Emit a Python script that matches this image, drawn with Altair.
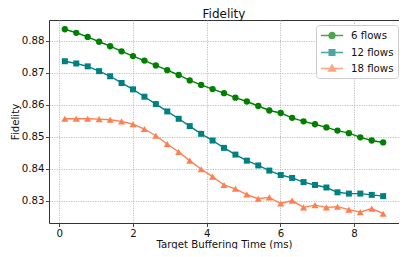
import altair as alt
import pandas as pd

# ---- data ----
x_ms = [0.15, 0.46, 0.77, 1.08, 1.38, 1.69, 2.00, 2.31, 2.62, 2.93,
        3.24, 3.54, 3.85, 4.16, 4.47, 4.78, 5.09, 5.40, 5.70, 6.01,
        6.32, 6.63, 6.94, 7.25, 7.55, 7.86, 8.17, 8.48, 8.79]

fid_6 = [0.8836, 0.8825, 0.8812, 0.8797, 0.8783, 0.8767, 0.8752, 0.8738, 0.8723, 0.8708,
         0.8693, 0.8676, 0.8662, 0.8649, 0.8636, 0.8622, 0.8610, 0.8596, 0.8582, 0.8574,
         0.8559, 0.8548, 0.8539, 0.8529, 0.8519, 0.8511, 0.8498, 0.8488, 0.8482]

fid_12 = [0.8736, 0.8729, 0.8720, 0.8705, 0.8689, 0.8668, 0.8648, 0.8625, 0.8602, 0.8579,
          0.8556, 0.8533, 0.8509, 0.8488, 0.8465, 0.8444, 0.8425, 0.8410, 0.8394, 0.8380,
          0.8371, 0.8358, 0.8349, 0.8341, 0.8326, 0.8322, 0.8322, 0.8318, 0.8314]

fid_18 = [0.8556, 0.8556, 0.8556, 0.8555, 0.8553, 0.8548, 0.8539, 0.8524, 0.8503, 0.8477,
          0.8452, 0.8425, 0.8398, 0.8375, 0.8349, 0.8337, 0.8319, 0.8306, 0.8310, 0.8291,
          0.8300, 0.8279, 0.8286, 0.8279, 0.8281, 0.8272, 0.8264, 0.8275, 0.8259]

series_names = ["6 flows", "12 flows", "18 flows"]
x_ticks = [0, 2, 4, 6, 8]
y_ticks = [0.83, 0.84, 0.85, 0.86, 0.87, 0.88]

# ---- styling ----
colors = ["#008000", "#008080", "#ff7f50"]
marker_shapes = ["circle", "square", "triangle-up"]
marker_sizes = [40, 36, 50]
# legend symbols: short line with a (stroked-solid) marker in its middle; unit = sqrt(size)/2
legend_paths = [
    "M-1,0H3"
    "M0.45,0A0.55,0.55,0,1,0,1.55,0A0.55,0.55,0,1,0,0.45,0"
    "M0.67,0A0.33,0.33,0,1,0,1.33,0A0.33,0.33,0,1,0,0.67,0"
    "M0.88,0A0.12,0.12,0,1,0,1.12,0A0.12,0.12,0,1,0,0.88,0",
    "M-1,0H3"
    "M0.48,-0.52H1.52V0.52H0.48Z"
    "M0.7,-0.3H1.3V0.3H0.7Z"
    "M0.9,-0.1H1.1V0.1H0.9Z",
    "M-1,0H3"
    "M1,-0.66L1.64,0.48H0.36Z"
    "M1,-0.35L1.32,0.24H0.68Z"
    "M1,-0.05L1.05,0.05H0.95Z",
]

rows = []
for name, vals in zip(series_names, [fid_6, fid_12, fid_18]):
    for xv, yv in zip(x_ms, vals):
        rows.append({"x": xv, "y": yv, "series": name})
df = pd.DataFrame(rows)

FONT = "DejaVu Sans"
FS = 10.2

x_enc = alt.X("x:Q", scale=alt.Scale(domain=[-0.28, 9.22], nice=False, zero=False),
              axis=alt.Axis(title="Target Buffering Time (ms)", values=x_ticks, format="d"))
y_enc = alt.Y("y:Q", scale=alt.Scale(domain=[0.823, 0.8865], nice=False, zero=False),
              axis=alt.Axis(title="Fidelity", values=y_ticks, format=".2f"))

base = alt.Chart(df)

layers = []
for name, col in zip(series_names, colors):
    layers.append(
        base.transform_filter(alt.datum.series == name)
        .mark_line(strokeWidth=1.4, color=col, clip=True)
        .encode(x=x_enc, y=y_enc)
    )
for name, col, shp, sz in zip(series_names, colors, marker_shapes, marker_sizes):
    layers.append(
        base.transform_filter(alt.datum.series == name)
        .mark_point(filled=True, opacity=1, color=col, shape=shp, size=sz, strokeWidth=0, clip=True)
        .encode(x=x_enc, y=y_enc)
    )

leg = alt.Legend(title=None, orient="none", legendX=267, legendY=5,
                 padding=4, rowPadding=4, strokeColor="#cccccc", fillColor="white",
                 cornerRadius=3, symbolSize=121, symbolStrokeWidth=1.3,
                 labelFontSize=FS, labelFont=FONT, labelColor="#111111", labelOffset=18)

# zero-size marks that only carry the legend
layers.append(
    base.mark_point(filled=False, size=0, clip=True).encode(
        x=x_enc, y=y_enc,
        color=alt.Color("series:N", scale=alt.Scale(domain=series_names, range=colors), legend=leg),
        shape=alt.Shape("series:N", scale=alt.Scale(domain=series_names, range=legend_paths), legend=leg),
    )
)

chart = alt.layer(*layers).properties(
    width=350, height=203,
    title=alt.TitleParams("Fidelity", font=FONT, fontSize=12, fontWeight="normal",
                          color="#111111", anchor="middle", offset=3.5, baseline="alphabetic",
                          frame="group", dy=13),
    autosize=alt.AutoSizeParams(type="none"),
    padding={"left": 41, "top": 12, "right": 0, "bottom": 26},
).configure(
    font=FONT,
).configure_view(
    stroke="#333333", strokeWidth=1,
).configure_axis(
    domain=False,
    grid=True, gridColor="#b0b0b0", gridDash=[1.2, 1.2], gridWidth=0.8,
    tickColor="#333333", tickSize=3.5, tickWidth=0.9,
    labelFont=FONT, labelFontSize=FS, labelColor="#111111", labelPadding=1.5,
    titleFont=FONT, titleFontSize=FS, titleFontWeight="normal", titleColor="#111111",
).configure_axisX(
    titlePadding=1,
).configure_axisY(
    titlePadding=1,
)

chart.save("out.html", embed_options={"renderer": "svg", "actions": False})
